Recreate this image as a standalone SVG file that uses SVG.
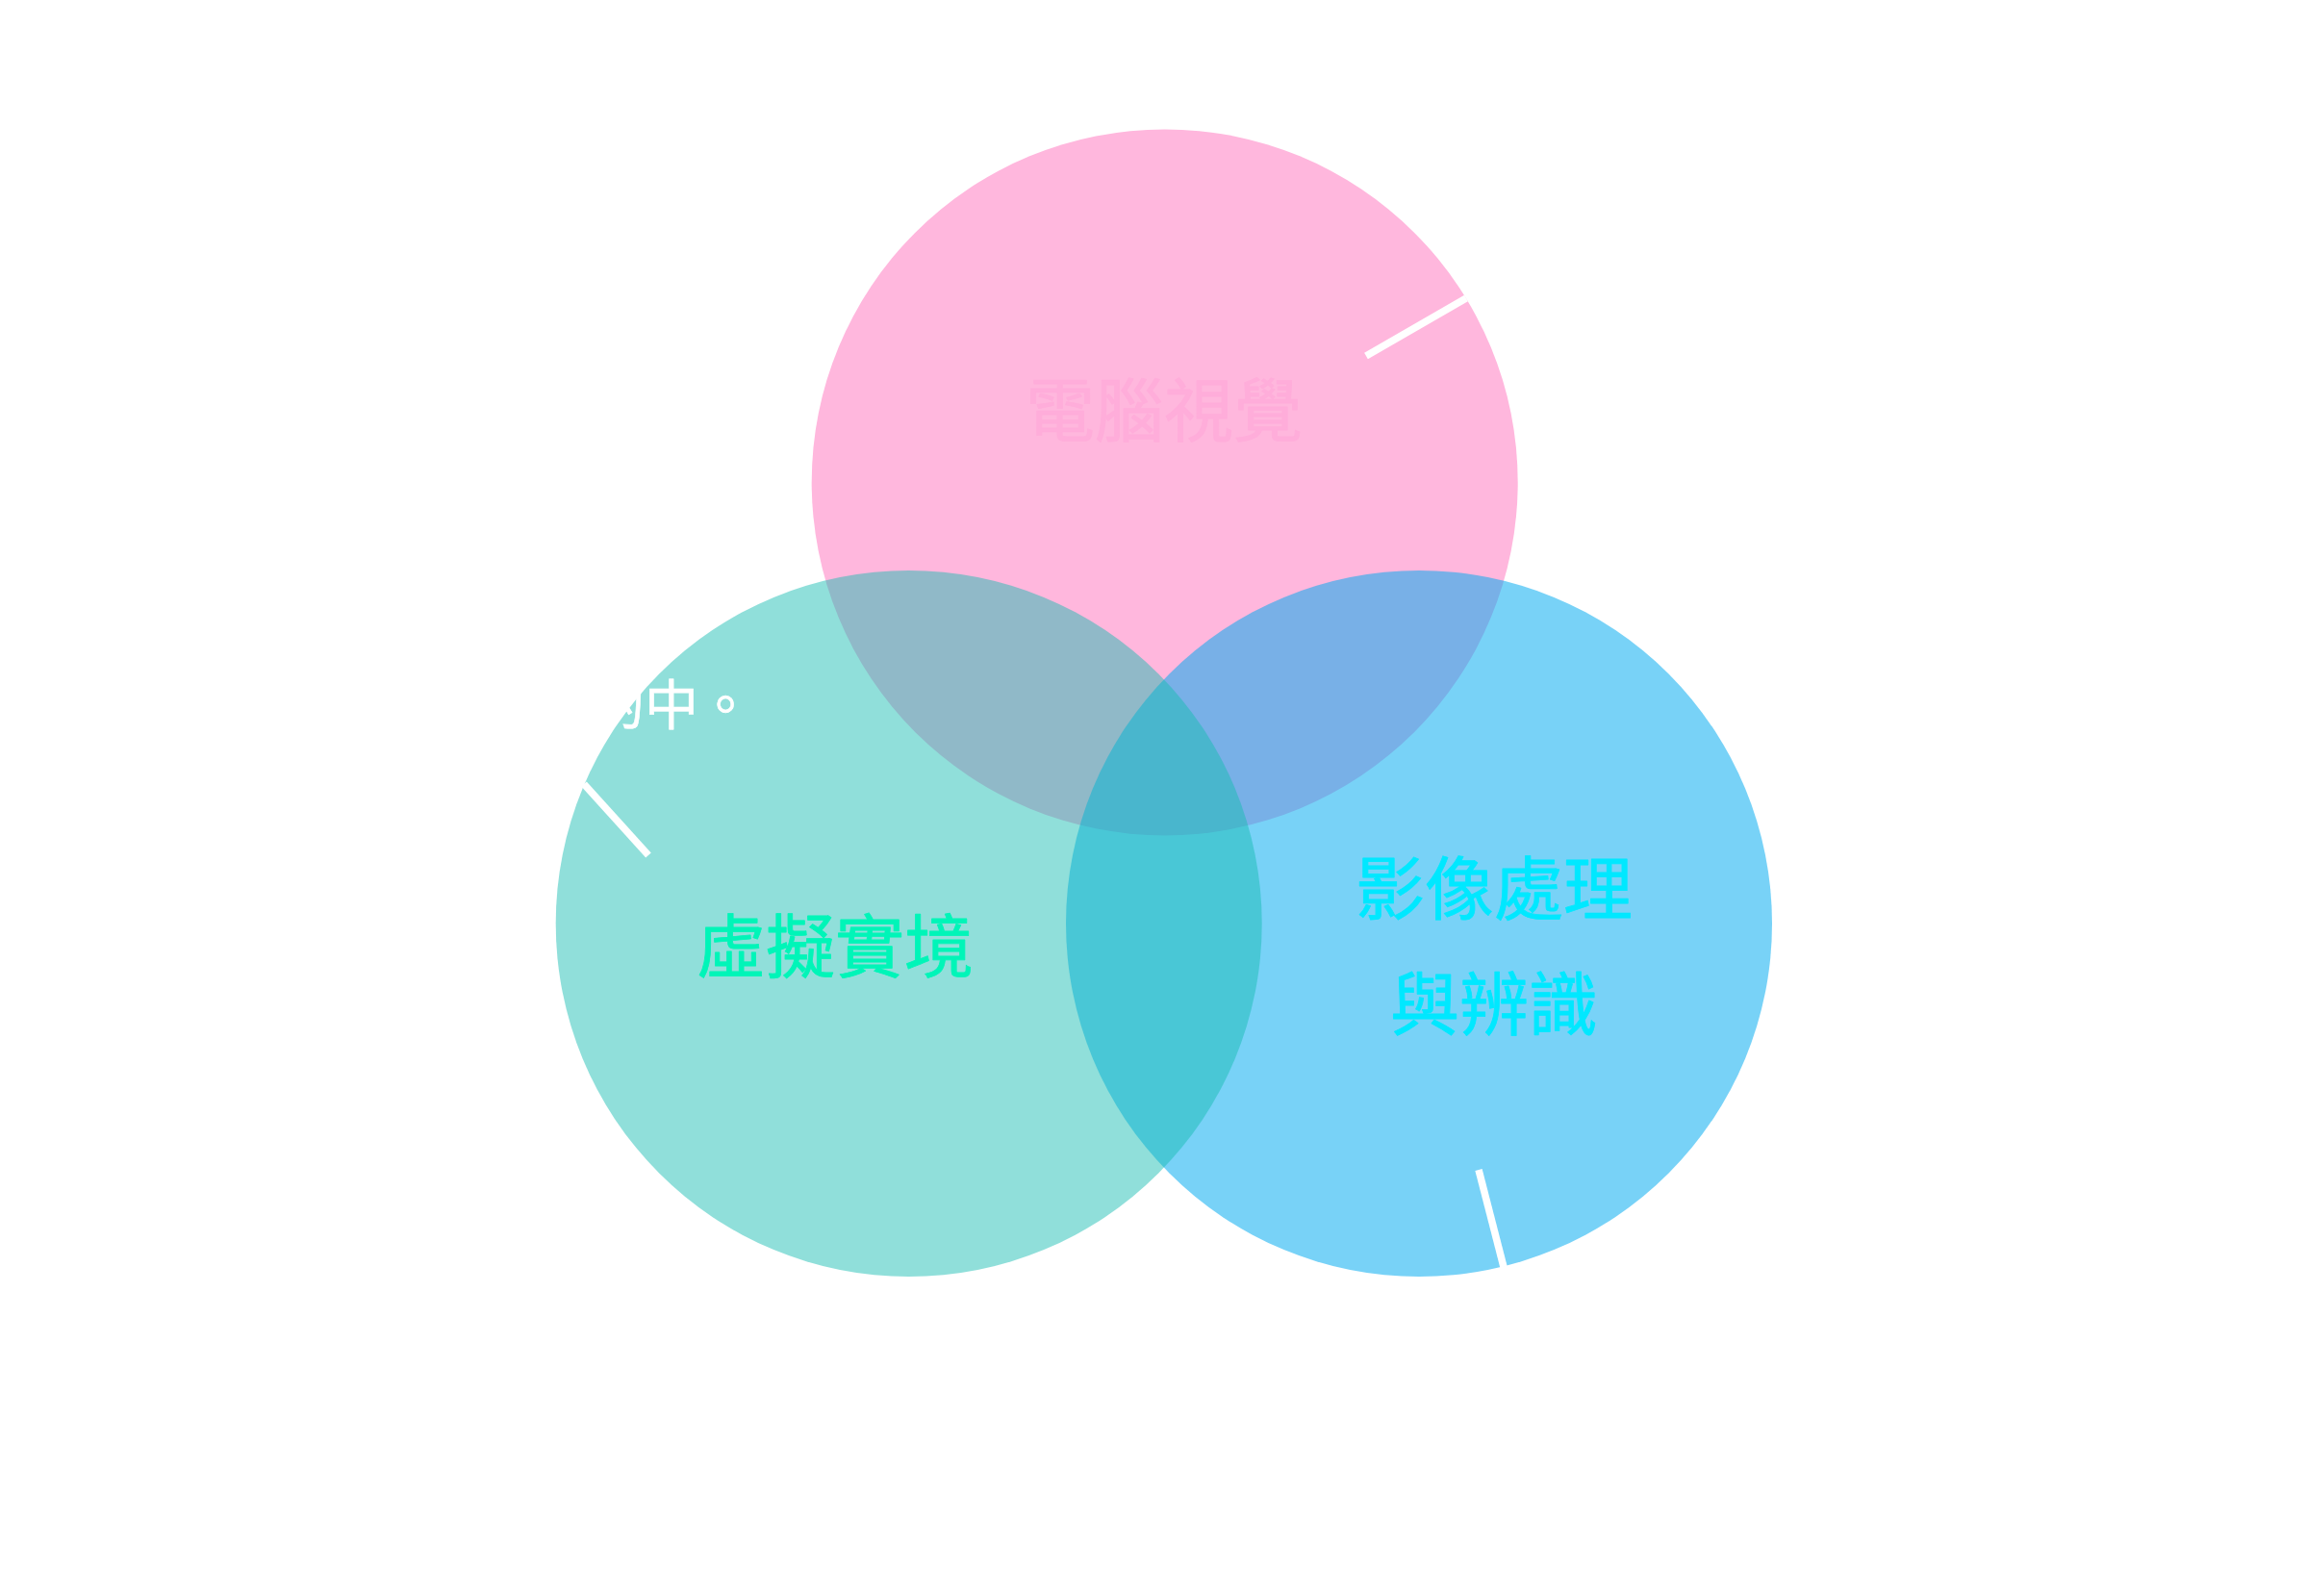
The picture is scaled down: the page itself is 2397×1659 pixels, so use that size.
<svg xmlns="http://www.w3.org/2000/svg" width="2397" height="1659" viewBox="0 0 2397 1659">
<style>
.lbl{font-family:"Noto Sans CJK TC","Noto Sans CJK SC",sans-serif;font-size:72px;text-anchor:middle;stroke-width:0.8;stroke-linejoin:round}
.lead{stroke:#ffffff;stroke-width:7.5;fill:none}
</style>
<rect width="2397" height="1659" fill="#ffffff"/>
<g id="node-cv">
<circle cx="1210.7" cy="501.4" r="367" fill="#FFB7DD"/>
</g>
<g id="node-ip">
<circle cx="1475" cy="960" r="367" fill="rgb(0,170,240)" fill-opacity="0.53"/>
</g>
<g id="node-vr">
<circle cx="944.7" cy="960" r="367" fill="rgb(22,188,178)" fill-opacity="0.48"/>
</g>
<g id="labels">
<text class="lbl" x="1210" y="453" fill="#FFADDA" stroke="#FFADDA">電腦視覺</text>
<text class="lbl" x="1553" y="950" fill="#00E8FF" stroke="#00E8FF">影像處理</text>
<text class="lbl" x="1553" y="1070" fill="#00E8FF" stroke="#00E8FF">與辨識</text>
<text class="lbl" x="868" y="1010" fill="#00F5B8" stroke="#00F5B8">虛擬實境</text>
<text x="782" y="753" fill="#ffffff" stroke="#ffffff" stroke-width="0.6" font-family="Noto Sans CJK TC, sans-serif" font-size="56" text-anchor="end">的中。</text>
</g>
<g id="connectors">
<line class="lead" x1="1420" y1="370" x2="1524" y2="310"/>
<line class="lead" x1="607" y1="815" x2="674" y2="889"/>
<line class="lead" x1="1537" y1="1216" x2="1563" y2="1317"/>
</g>
</svg>
